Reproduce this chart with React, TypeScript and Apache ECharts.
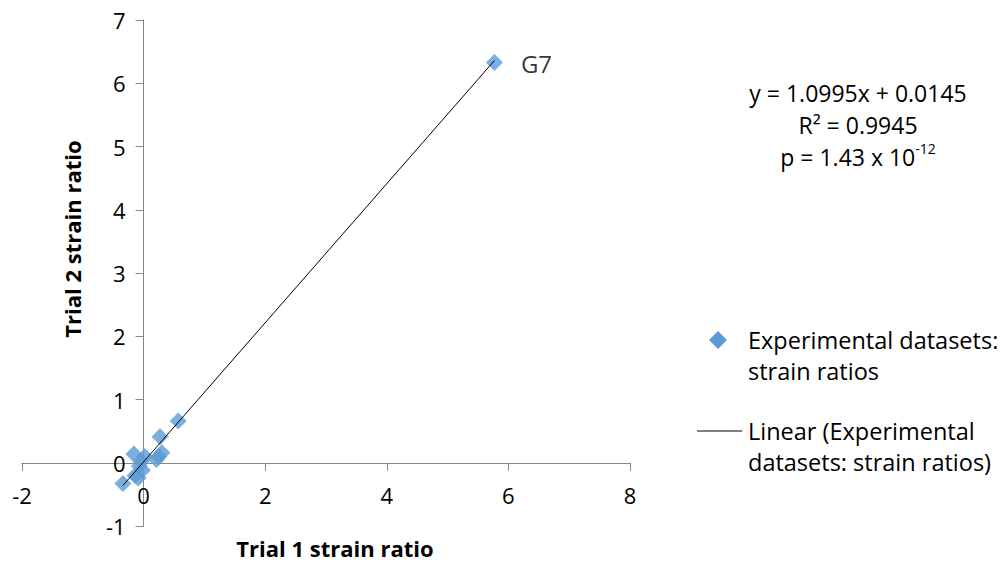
import React, { useEffect, useRef } from "react";
import * as echarts from "echarts";

// Strain ratios measured in the two trials (one entry per experimental dataset)
const trial1Ratios = [5.77, 0.57, 0.27, 0.3, 0.25, 0.21, -0.16, 0.02, -0.04, -0.07, -0.02, -0.09, -0.14, -0.34];
const trial2Ratios = [6.33, 0.66, 0.41, 0.16, 0.1, 0.05, 0.14, 0.1, 0.02, -0.05, -0.12, -0.24, -0.2, -0.33];
const pointLabels = ["G7", "", "", "", "", "", "", "", "", "", "", "", "", ""];

// Least-squares fit reported for the datasets
const fitSlope = 1.0995;
const fitIntercept = 0.0145;
const fitStats = ["y = 1.0995x + 0.0145", "R² = 0.9945", "p = 1.43 x 10{sup|-12}"];

// Axis ranges
const xRange = [-2, 8];
const xStep = 2;
const yRange = [-1, 7];
const yStep = 1;

const seriesName = "Experimental datasets:\nstrain ratios";
const trendName = "Linear (Experimental\ndatasets: strain ratios)";

const FONT = "'Open Sans', 'Noto Sans', sans-serif";
const MARKER = "#5B9BD5";

// Plot area
const GRID = { left: 22, right: 377, top: 20, bottom: 39 };
const WIDTH = 1007;
const HEIGHT = 565;

export default function App() {
  const ref = useRef<HTMLDivElement>(null);

  useEffect(() => {
    if (!ref.current) return;
    const chart = echarts.init(ref.current, undefined, { renderer: "svg" });

    const points = trial1Ratios.map((x, i) => ({
      value: [x, trial2Ratios[i]],
      name: pointLabels[i],
    }));
    const xMin = Math.min(...trial1Ratios);
    const xMax = Math.max(...trial1Ratios);
    const trend = [xMin, xMax].map((x) => [x, fitSlope * x + fitIntercept]);

    // Axes cross at the origin: shift each axis (line, ticks and labels) in from the plot edge
    const plotW = WIDTH - GRID.left - GRID.right;
    const plotH = HEIGHT - GRID.top - GRID.bottom;
    const yAxisShift = -plotW * ((0 - xRange[0]) / (xRange[1] - xRange[0]));
    const xAxisShift = -plotH * ((0 - yRange[0]) / (yRange[1] - yRange[0]));

    const axisGray = "#868686";

    chart.setOption({
      animation: false,
      backgroundColor: "#ffffff",
      textStyle: { fontFamily: FONT, color: "#000" },
      grid: { ...GRID, containLabel: false, outerBoundsMode: "none" },
      xAxis: {
        type: "value",
        position: "bottom",
        offset: xAxisShift,
        min: xRange[0],
        max: xRange[1],
        interval: xStep,
        name: "Trial 1 strain ratio",
        nameLocation: "middle",
        nameGap: 74,
        nameTextStyle: {
          fontFamily: FONT,
          fontWeight: "bold",
          fontSize: 22,
          color: "#000",
          padding: [0, 0, 0, 18],
        },
        axisLine: { onZero: false, lineStyle: { color: axisGray, width: 1 } },
        axisTick: { show: true, inside: false, length: 8, lineStyle: { color: axisGray } },
        axisLabel: { fontFamily: FONT, fontSize: 22, color: "#000", margin: 21 },
        splitLine: { show: false },
      },
      yAxis: {
        type: "value",
        position: "left",
        offset: yAxisShift,
        min: yRange[0],
        max: yRange[1],
        interval: yStep,
        name: "Trial 2 strain ratio",
        nameLocation: "middle",
        nameRotate: 90,
        nameGap: 61,
        nameTextStyle: {
          fontFamily: FONT,
          fontWeight: "bold",
          fontSize: 22,
          color: "#000",
          padding: [0, 0, 0, 68],
        },
        axisLine: { onZero: false, lineStyle: { color: axisGray, width: 1 } },
        axisTick: { show: true, inside: false, length: 8, lineStyle: { color: axisGray } },
        axisLabel: { fontFamily: FONT, fontSize: 22, color: "#000", margin: 18 },
        splitLine: { show: false },
      },
      series: [
        {
          name: seriesName,
          type: "scatter",
          symbol: "diamond",
          symbolSize: 17,
          itemStyle: { color: MARKER },
          data: points,
          z: 2,
          label: {
            show: true,
            position: "right",
            distance: 18,
            fontFamily: FONT,
            fontSize: 24,
            color: "#000",
            offset: [0, 1],
            formatter: (p: any) => p.name,
          },
        },
        {
          name: trendName,
          type: "line",
          data: trend,
          symbol: "none",
          lineStyle: { color: "#000", width: 1 },
          z: 3,
          silent: true,
        },
      ],
      graphic: [
        {
          type: "text",
          x: 858,
          y: 77,
          style: {
            text: fitStats.join("\n"),
            align: "center",
            verticalAlign: "top",
            fontFamily: FONT,
            fontSize: 23,
            lineHeight: 32,
            fill: "#000",
            rich: {
              sup: { fontSize: 14, verticalAlign: "top", padding: [0, 0, 10, 0], fontFamily: FONT, fill: "#000" },
            },
          },
        },
        {
          type: "polygon",
          shape: { points: [[718, 331], [727, 340], [718, 349], [709, 340]] },
          style: { fill: MARKER },
        },
        {
          type: "text",
          x: 748,
          y: 324,
          style: {
            text: seriesName,
            fontFamily: FONT,
            fontSize: 23.5,
            lineHeight: 31,
            fill: "#000",
          },
        },
        {
          type: "line",
          shape: { x1: 697, y1: 431, x2: 742, y2: 431 },
          style: { stroke: "#000", lineWidth: 1 },
        },
        {
          type: "text",
          x: 748,
          y: 415,
          style: {
            text: trendName,
            fontFamily: FONT,
            fontSize: 23.5,
            lineHeight: 31,
            fill: "#000",
          },
        },
      ],
    });

    return () => chart.dispose();
  }, []);

  return (
    <div
      ref={ref}
      style={{ position: "fixed", left: 0, top: 0, width: WIDTH, height: HEIGHT, background: "#fff" }}
    />
  );
}
